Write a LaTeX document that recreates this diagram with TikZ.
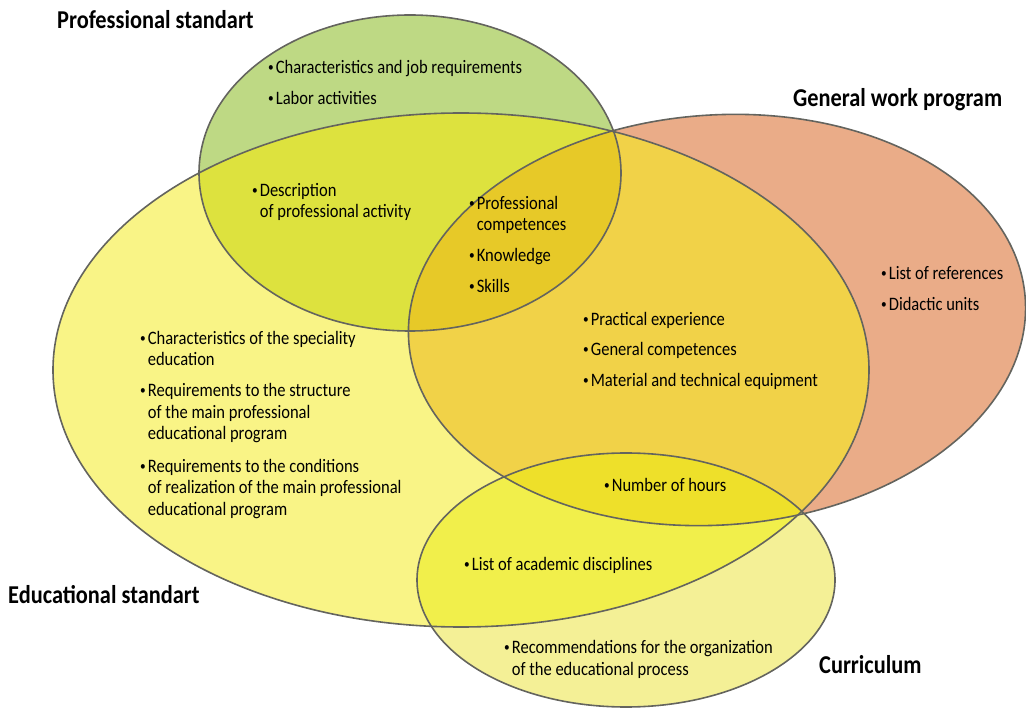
\documentclass[tikz,border=0pt]{standalone}
\usepackage{fontspec}
\setmainfont{Carlito}[FakeStretch=0.87]

\definecolor{profcol}{RGB}{190,217,132}
\definecolor{educol}{RGB}{249,244,134}
\definecolor{workcol}{RGB}{234,172,136}
\definecolor{currcol}{RGB}{244,240,150}
\definecolor{pecol}{RGB}{221,226,62}
\definecolor{ewcol}{RGB}{241,210,72}
\definecolor{pewcol}{RGB}{231,201,40}
\definecolor{eccol}{RGB}{241,239,75}
\definecolor{ewccol}{RGB}{238,224,42}
\definecolor{rimcol}{RGB}{100,100,94}

\newcommand{\profell}{(410,173) ellipse [x radius=211, y radius=158]}
\newcommand{\eduell}{(461,370) ellipse [x radius=408, y radius=257]}
\newcommand{\workell}{(717,320) ellipse [x radius=309, y radius=205, rotate=4]}
\newcommand{\currell}{(626,580) ellipse [x radius=209, y radius=127]}

\newcommand{\bul}{\raisebox{2pt}{\fontsize{13}{13}\selectfont\textbullet}\hspace{2pt}}
\newcommand{\nxt}{\\\phantom{\bul}}

\begin{document}
\begin{tikzpicture}[x=1pt, y=-1pt,
    item/.style={anchor=base west, align=left, inner sep=0pt,
              font=\fontsize{19}{21.5}\selectfont},
    head/.style={anchor=base west, inner sep=0pt,
              font=\fontsize{25.7}{28}\selectfont\bfseries},
    rim/.style={draw=rimcol, line width=1.6pt}]
                \useasboundingbox (0,0) rectangle (1026,708);
                % plain sets
                \fill[workcol] \workell;
                \fill[profcol] \profell;
                \fill[educol] \eduell;
                \fill[currcol] \currell;
                % overlaps
                \begin{scope}
                    \clip \eduell;
                    \fill[pecol] \profell;
                    \fill[ewcol] \workell;
                    \fill[eccol] \currell;
                \end{scope}
                \begin{scope}
                    \clip \eduell;
                    \clip \workell;
                    \fill[pewcol] \profell;
                    \fill[ewccol] \currell;
                \end{scope}
                \draw[rim] \workell;
                \draw[rim] \profell;
                \draw[rim] \eduell;
                \draw[rim] \currell;

                \node[head] (prof) at (57,29) {Professional standart};
                \node[head] (work) at (793,107) {General work program};
                \node[head] (edu) at (8,603) {Educational standart};
                \node[head] (curr) at (819,673) {Curriculum};

                % multi-line items sit on their last baseline
                \node[item] (chr) at (268,74) {\bul Characteristics and job requirements};
                \node[item] (lab) at (268,105) {\bul Labor activities};
                \node[item] (dsc) at (252,218) {\bul Description\nxt of professional activity};
                \node[item] (pcm) at (469,231) {\bul Professional\nxt competences};
                \node[item] (knw) at (469,262) {\bul Knowledge};
                \node[item] (skl) at (469,293) {\bul Skills};
                \node[item] (ref) at (881,280) {\bul List of references};
                \node[item] (did) at (881,311) {\bul Didactic units};
                \node[item] (prx) at (583,326) {\bul Practical experience};
                \node[item] (gcm) at (583,356) {\bul General competences};
                \node[item] (mat) at (583,387) {\bul Material and technical equipment};
                \node[item] (spc) at (140,366) {\bul Characteristics of the speciality\nxt education};
                \node[item] (str) at (140,440) {\bul Requirements to the structure\nxt of the main professional\nxt educational program};
                \node[item] (cnd) at (140,515) {\bul Requirements to the conditions\nxt of realization of the main professional\nxt educational program};
                \node[item] (hrs) at (604,492) {\bul Number of hours};
                \node[item] (dis) at (464,570) {\bul List of academic disciplines};
                \node[item] (rec) at (504,675) {\bul Recommendations for the organization\nxt of the educational process};
            \end{tikzpicture}
\end{document}
